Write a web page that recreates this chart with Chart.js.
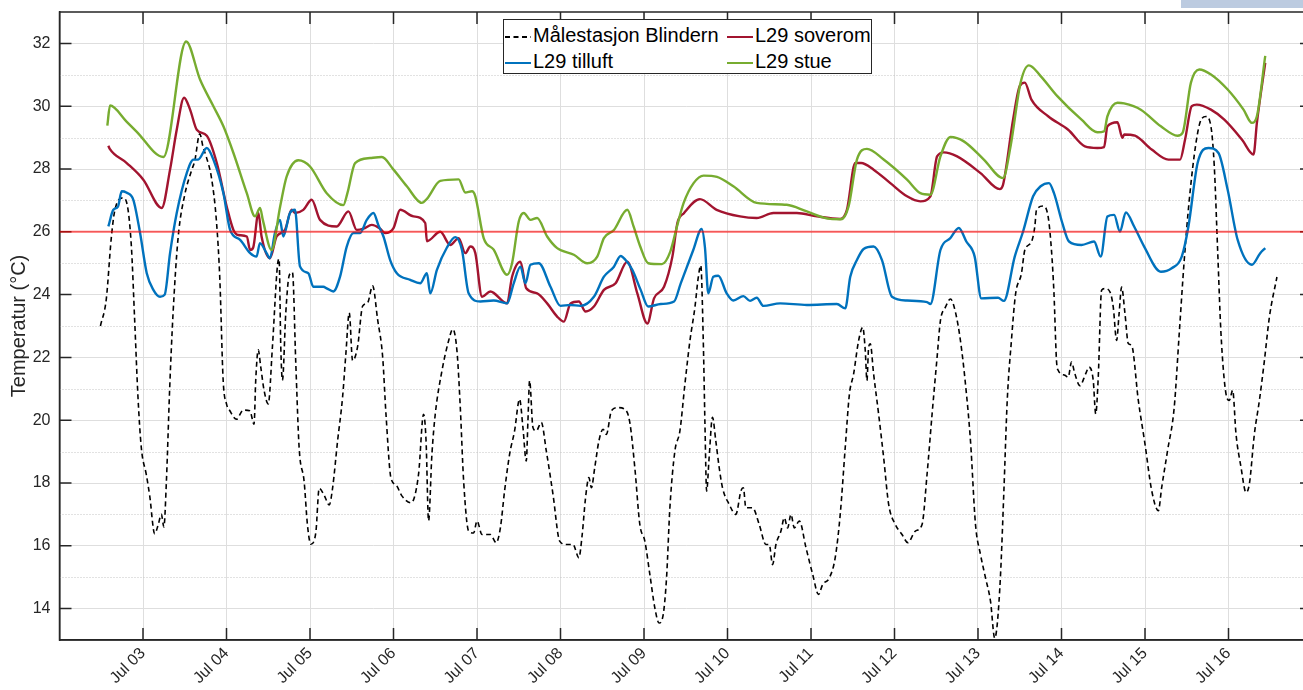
<!DOCTYPE html>
<html>
<head>
<meta charset="utf-8">
<script src="https://cdn.jsdelivr.net/npm/chart.js@4.4.0/dist/chart.umd.min.js"></script>
<style>
  body { margin: 0; overflow: hidden; background: #fff; width: 1303px; height: 690px; position: relative; }
  #wrap { position: absolute; left: 0; top: 0; width: 1320px; height: 690px; }
  #legend { position: absolute; left: 503px; top: 19px; width: 367px; height: 53px; background: #fff;
            border: 1px solid #262626; font-family: "Liberation Sans", Arial, sans-serif; font-size: 20px; color: #000; }
  .item { position: absolute; height: 26px; line-height: 26px; white-space: nowrap; }
  .item svg { vertical-align: middle; margin-right: 2px; }
  #corner { position: absolute; left: 1181px; top: 0; width: 122px; height: 8px; background: #bccbe0; }
</style>
</head>
<body>
<div id="wrap"><canvas id="myChart" width="1320" height="690"></canvas></div>
<div id="legend"></div>
<div id="corner"></div>
<script>
// x values are days in July (2.0 = Jul 02 00:00)
var dayTicks = [3, 4, 5, 6, 7, 8, 9, 10, 11, 12, 13, 14, 15, 16];
var tickLabels = ['Jul 03', 'Jul 04', 'Jul 05', 'Jul 06', 'Jul 07', 'Jul 08', 'Jul 09',
                  'Jul 10', 'Jul 11', 'Jul 12', 'Jul 13', 'Jul 14', 'Jul 15', 'Jul 16'];
var yMajor = [14, 16, 18, 20, 22, 24, 26, 28, 30, 32];
var yMinor = [15, 17, 19, 21, 23, 25, 27, 29, 31];
var limit = 26;

var blindernT = [2.49,2.56,2.62,2.66,2.76,2.80,2.86,2.90,2.94,2.98,3.04,3.08,3.14,3.18,3.22,3.25,3.28,3.32,3.36,3.42,
  3.50,3.58,3.62,3.68,3.72,3.76,3.82,3.88,3.92,3.96,4.00,4.04,4.12,4.20,4.28,4.33,4.35,4.38,4.41,4.45,
  4.50,4.55,4.61,4.63,4.65,4.67,4.71,4.75,4.79,4.83,4.87,4.93,4.97,5.01,5.07,5.11,5.17,5.23,5.27,5.33,
  5.39,5.43,5.47,5.51,5.57,5.63,5.69,5.75,5.81,5.87,5.91,5.97,6.03,6.10,6.21,6.30,6.36,6.39,6.42,6.46,
  6.50,6.58,6.66,6.71,6.76,6.80,6.84,6.90,6.96,7.00,7.06,7.16,7.23,7.28,7.33,7.39,7.45,7.51,7.55,7.59,
  7.61,7.63,7.67,7.71,7.77,7.83,7.91,7.99,8.07,8.15,8.22,8.26,8.30,8.34,8.37,8.41,8.46,8.51,8.55,8.61,
  8.69,8.77,8.83,8.89,8.95,9.01,9.07,9.13,9.18,9.23,9.27,9.31,9.37,9.43,9.49,9.55,9.61,9.65,9.68,9.71,
  9.73,9.75,9.78,9.82,9.86,9.90,9.94,10.02,10.10,10.16,10.19,10.22,10.30,10.38,10.46,10.50,10.54,10.58,10.64,10.68,
  10.72,10.76,10.80,10.86,10.94,11.02,11.09,11.14,11.22,11.29,11.35,11.41,11.46,11.51,11.57,11.62,11.65,11.67,11.69,11.71,
  11.75,11.81,11.87,11.93,12.01,12.09,12.16,12.25,12.33,12.39,12.45,12.51,12.55,12.61,12.67,12.73,12.79,12.85,12.91,12.97,
  13.03,13.09,13.15,13.20,13.23,13.27,13.31,13.35,13.40,13.45,13.52,13.56,13.64,13.68,13.70,13.78,13.84,13.88,13.91,13.94,
  13.96,14.04,14.08,14.12,14.16,14.22,14.29,14.33,14.38,14.41,14.44,14.48,14.52,14.58,14.62,14.66,14.69,14.72,14.76,14.80,
  14.84,14.92,15.00,15.08,15.16,15.20,15.27,15.35,15.41,15.47,15.53,15.61,15.67,15.73,15.79,15.83,15.87,15.91,15.97,16.01,
  16.05,16.09,16.15,16.21,16.25,16.31,16.37,16.43,16.49,16.58];
var blindernV = [23.0,23.85,25.8,26.65,27.08,26.97,25.57,23.2,20.73,19.12,18.26,17.6,16.38,16.65,17.0,16.6,18.04,21.05,23.4,25.8,
  27.18,27.94,28.26,29.12,28.69,28.37,27.72,26.32,24.5,21.27,20.52,20.3,20.03,20.32,20.3,19.87,21.27,22.24,21.7,20.95,
  20.52,22.34,24.92,25.14,22.34,21.27,23.42,24.6,24.71,21.8,19.12,18.04,16.65,16.05,16.43,17.83,17.61,17.3,17.83,19.33,
  20.73,22.13,23.42,21.9,22.34,23.63,23.74,24.28,23.2,22.02,20.19,18.15,17.94,17.59,17.37,18.28,20.19,19.34,16.79,18.91,
  20.19,21.57,22.53,22.9,22.21,20.4,18.06,16.47,16.41,16.79,16.36,16.36,16.1,16.57,17.74,18.91,19.66,20.67,19.77,18.7,
  19.98,21.26,19.77,19.66,19.93,19.02,17.64,16.15,16.04,16.04,15.62,16.36,17.53,18.17,17.85,18.49,19.34,19.71,19.55,20.3,
  20.4,20.35,19.93,18.49,16.68,16.15,15.09,14.02,13.54,13.81,14.98,17.21,19.02,19.66,21.15,22.53,23.6,24.55,24.93,22.53,
  19.87,17.74,18.81,20.09,19.34,18.5,17.85,17.32,17.0,17.74,17.85,17.21,17.21,16.68,16.04,16.04,15.4,16.04,16.47,16.89,
  16.57,17.0,16.57,16.79,15.94,15.09,14.45,14.77,14.98,15.62,17.0,19.13,20.83,21.47,22.53,22.96,22.21,21.26,22.32,22.43,
  21.47,20.19,18.81,17.32,16.68,16.36,16.1,16.47,16.68,18.28,20.19,22.0,23.17,23.6,23.86,23.44,22.53,21.15,19.34,16.68,
  15.72,14.98,14.23,13.06,13.49,15.09,17.74,20.62,22.53,24.02,24.67,25.41,25.68,26.16,26.69,26.82,26.48,25.41,24.03,21.9,
  21.59,21.43,21.37,21.85,21.48,21.1,21.48,21.69,21.27,20.2,21.37,24.14,24.19,24.09,23.6,22.54,23.4,24.24,23.4,22.44,
  22.38,20.63,19.24,17.76,17.12,17.86,19.03,20.41,22.76,25.1,27.01,28.82,29.56,29.67,29.35,28.07,25.41,22.76,20.84,20.63,
  20.95,19.56,18.5,17.7,17.97,19.56,20.63,21.9,23.29,24.56];

var soveromT = [2.585,2.6,2.805,3.004,3.224,3.324,3.404,3.492,3.564,3.644,3.764,3.884,4.003,4.083,4.14,4.243,4.283,4.32,4.382,4.42,
  4.52,4.6,4.70,4.78,4.82,4.92,5.02,5.12,5.32,5.46,5.56,5.64,5.74,5.84,5.90,6.0,6.08,6.24,6.38,6.4,
  6.56,6.68,6.78,6.86,6.92,6.98,7.06,7.16,7.36,7.42,7.52,7.59,7.72,7.84,7.96,8.04,8.12,8.22,8.30,8.40,
  8.52,8.66,8.80,8.92,9.04,9.12,9.24,9.34,9.40,9.48,9.67,9.87,10.15,10.35,10.55,10.83,11.07,11.35,11.43,11.53,
  11.60,11.75,11.95,12.15,12.31,12.43,12.51,12.59,12.75,13.03,13.26,13.30,13.42,13.50,13.56,13.64,13.84,14.08,14.28,14.43,
  14.51,14.55,14.67,14.73,14.75,14.88,15.08,15.28,15.42,15.48,15.56,15.62,15.79,15.95,16.16,16.30,16.34,16.44];
var soveromV = [28.74,28.65,28.19,27.66,26.76,27.98,29.25,30.27,29.89,29.25,29.06,28.19,26.8,26.06,25.9,25.85,25.42,25.5,26.6,25.85,
  25.16,25.85,26.06,26.7,26.6,26.7,27.02,26.38,26.17,26.65,26.06,26.1,26.22,26.1,25.96,26.12,26.7,26.49,26.28,25.7,
  26.0,25.58,25.8,25.32,25.53,25.32,23.93,24.1,23.72,24.57,25.05,24.2,24.04,23.72,23.3,23.14,23.72,23.78,23.46,23.62,
  24.15,24.36,25.05,24.04,23.08,23.88,24.25,25.21,26.28,26.6,27.04,26.7,26.49,26.44,26.6,26.6,26.49,26.41,26.7,28.19,
  28.19,27.98,27.55,27.13,26.97,27.13,28.4,28.53,28.4,27.87,27.36,27.5,29.57,30.64,30.75,30.21,29.68,29.25,28.72,28.67,
  28.7,29.36,29.49,28.99,29.1,29.06,28.62,28.3,28.3,28.94,30.0,30.05,29.89,29.57,28.94,28.46,29.47,31.38];

var tilluftT = [2.585,2.645,2.70,2.745,2.80,2.884,2.965,3.045,3.124,3.204,3.26,3.324,3.404,3.524,3.604,3.66,3.764,3.843,3.963,4.043,
  4.163,4.283,4.36,4.40,4.48,4.52,4.58,4.64,4.68,4.76,4.82,4.88,4.98,5.04,5.16,5.20,5.28,5.36,5.44,5.52,
  5.60,5.68,5.76,5.82,5.88,5.96,6.04,6.2,6.32,6.40,6.44,6.52,6.64,6.74,6.82,6.90,7.04,7.20,7.36,7.44,
  7.52,7.58,7.64,7.74,7.88,8.0,8.12,8.24,8.40,8.52,8.64,8.72,8.78,8.86,8.96,9.05,9.20,9.36,9.44,9.59,
  9.69,9.73,9.77,9.83,9.89,9.99,10.07,10.19,10.27,10.35,10.43,10.63,10.95,11.31,11.41,11.47,11.55,11.63,11.75,11.85,
  11.97,12.15,12.39,12.43,12.55,12.67,12.77,12.86,12.96,13.04,13.24,13.31,13.44,13.54,13.66,13.75,13.85,13.91,14.01,14.09,
  14.24,14.39,14.47,14.55,14.63,14.70,14.77,14.87,14.99,15.19,15.32,15.44,15.52,15.63,15.76,15.88,15.99,16.11,16.28,16.38,16.44];
var tilluftV = [26.17,26.7,26.8,27.29,27.25,27.02,25.96,24.68,24.15,23.93,24.0,25.32,26.6,27.87,28.3,28.3,28.67,28.3,27.23,26.06,
  25.74,25.32,25.21,25.64,25.32,25.16,25.96,26.38,25.85,26.6,26.7,24.9,24.68,24.25,24.25,24.2,24.1,24.57,25.53,25.96,
  25.96,26.38,26.6,26.2,25.85,25.1,24.68,24.47,24.36,24.68,24.04,24.79,25.5,25.83,25.42,24.04,23.78,23.81,23.72,24.36,
  24.89,24.36,24.95,25.0,24.25,23.64,23.67,23.64,23.93,24.57,24.89,25.23,25.1,24.79,24.15,23.62,23.7,23.78,24.36,25.42,
  26.09,25.5,24.04,24.57,24.6,24.04,23.81,23.95,23.8,23.9,23.64,23.72,23.67,23.7,23.56,24.57,25.1,25.45,25.53,25.1,
  23.93,23.81,23.76,23.7,25.42,25.8,26.12,25.69,25.21,23.88,23.9,23.8,25.21,26.01,27.13,27.45,27.55,27.23,26.28,25.69,
  25.58,25.69,25.21,26.49,26.54,26.01,26.62,26.17,25.53,24.73,24.84,25.21,26.17,28.19,28.67,28.51,27.34,25.74,24.95,25.32,25.48];

var stueT = [2.573,2.605,2.8,2.92,3.244,3.516,3.683,3.843,3.963,4.083,4.243,4.342,4.402,4.435,4.54,4.642,4.72,4.861,5.0,5.2,
  5.4,5.448,5.54,5.72,5.86,6.0,6.16,6.34,6.4,6.56,6.78,6.86,6.94,6.98,7.08,7.2,7.36,7.42,7.5,7.56,
  7.64,7.72,7.84,7.96,8.16,8.32,8.44,8.52,8.64,8.8,8.875,8.955,9.05,9.215,9.315,9.395,9.475,9.594,9.714,9.874,
  10.07,10.35,10.71,10.95,11.23,11.36,11.45,11.55,11.67,11.87,12.15,12.31,12.43,12.55,12.67,12.83,13.07,13.30,13.39,13.51,
  13.61,13.75,13.95,14.24,14.43,14.51,14.55,14.67,14.75,14.95,15.19,15.39,15.45,15.55,15.65,15.79,15.99,16.18,16.28,16.34,16.44];
var stueV = [29.38,30.02,29.52,29.2,28.38,32.06,30.85,30.0,29.36,28.51,27.23,26.49,26.76,26.38,25.42,26.8,27.76,28.28,28.08,27.23,
  26.85,27.23,28.19,28.35,28.38,27.98,27.45,26.92,27.05,27.62,27.67,27.25,27.29,27.13,25.8,25.43,24.63,25.0,26.33,26.6,
  26.38,26.44,25.85,25.48,25.27,25.0,25.21,25.8,26.06,26.7,26.17,25.53,25.0,24.97,25.37,26.17,26.92,27.55,27.79,27.75,
  27.45,26.92,26.86,26.65,26.41,26.4,26.81,28.3,28.64,28.3,27.66,27.23,27.18,28.4,29.02,28.88,28.3,27.71,28.72,30.75,
  31.3,30.96,30.32,29.57,29.17,29.2,29.68,30.11,30.09,29.89,29.36,29.06,29.15,30.75,31.17,31.01,30.53,29.89,29.47,29.68,31.6];

function pts(t, v) {
  var out = [];
  for (var i = 0; i < t.length; i++) out.push({x: t[i], y: v[i]});
  return out;
}

var font = '"Liberation Sans", Arial, sans-serif';

var axisFrame = {
  id: 'axisFrame',
  beforeDatasetsDraw: function(chart) {
    var ctx = chart.ctx, a = chart.chartArea, x = chart.scales.x, y = chart.scales.y;
    ctx.save();
    // dotted minor grid
    ctx.strokeStyle = '#c4c4c4';
    ctx.lineWidth = 1;
    ctx.setLineDash([1, 2]);
    yMinor.forEach(function(v) {
      var p = Math.round(y.getPixelForValue(v)) + 0.5;
      ctx.beginPath(); ctx.moveTo(a.left, p); ctx.lineTo(a.right, p); ctx.stroke();
    });
    ctx.setLineDash([]);
    // box and inward ticks
    ctx.strokeStyle = '#262626';
    ctx.lineWidth = 1.5;
    ctx.strokeRect(a.left, a.top, a.right - a.left, a.bottom - a.top);
    ctx.beginPath();
    yMajor.forEach(function(v) {
      var p = y.getPixelForValue(v);
      ctx.moveTo(a.left, p); ctx.lineTo(a.left + 12, p);
      ctx.moveTo(a.right, p); ctx.lineTo(a.right - 12, p);
    });
    dayTicks.forEach(function(v) {
      var p = x.getPixelForValue(v);
      ctx.moveTo(p, a.bottom); ctx.lineTo(p, a.bottom - 12);
      ctx.moveTo(p, a.top); ctx.lineTo(p, a.top + 12);
    });
    ctx.stroke();
    ctx.restore();
  }
};

var chartdata = {
  datasets: [
    { label: '26', data: [{x: 2, y: limit}, {x: 17, y: limit}], borderColor: 'rgba(255, 0, 0, 0.6)',
      borderWidth: 2, pointRadius: 0, order: 0 },
    { label: 'Målestasjon Blindern', data: pts(blindernT, blindernV), borderColor: '#000000',
      borderWidth: 1.6, borderDash: [5, 3.5], pointRadius: 0, cubicInterpolationMode: 'monotone', order: 4 },
    { label: 'L29 soverom', data: pts(soveromT, soveromV), borderColor: '#A2142F',
      borderWidth: 2.4, pointRadius: 0, cubicInterpolationMode: 'monotone', order: 3 },
    { label: 'L29 tilluft', data: pts(tilluftT, tilluftV), borderColor: '#0072BD',
      borderWidth: 2.4, pointRadius: 0, cubicInterpolationMode: 'monotone', order: 2 },
    { label: 'L29 stue', data: pts(stueT, stueV), borderColor: '#77AC30',
      borderWidth: 2.4, pointRadius: 0, cubicInterpolationMode: 'monotone', order: 1 }
  ]
};

var ctx = document.getElementById('myChart');
var lineGraph = new Chart(ctx, {
  type: 'line',
  data: chartdata,
  plugins: [axisFrame],
  options: {
    responsive: false,
    animation: false,
    layout: { padding: { top: 12, right: 8, left: 0, bottom: 0 } },
    plugins: { legend: { display: false }, tooltip: { enabled: false } },
    scales: {
      x: {
        type: 'linear', min: 2, max: 17,
        afterBuildTicks: function(s) { s.ticks = dayTicks.map(function(v) { return {value: v}; }); },
        afterFit: function(s) { s.height = 50; s.paddingLeft = 0; s.paddingRight = 0; },
        grid: { color: '#dedede', lineWidth: 1, drawTicks: false },
        border: { display: true, color: '#262626', width: 1.5 },
        ticks: {
          autoSkip: false, minRotation: 45, maxRotation: 45, padding: 4, color: '#262626',
          font: { family: font, size: 16 },
          callback: function(v) { var i = dayTicks.indexOf(v); return i < 0 ? '' : tickLabels[i]; }
        }
      },
      y: {
        type: 'linear', min: 13, max: 33,
        afterBuildTicks: function(s) { s.ticks = yMajor.map(function(v) { return {value: v}; }); },
        afterFit: function(s) { s.width = 59.5; s.paddingTop = 0; s.paddingBottom = 0; },
        grid: { color: '#dedede', lineWidth: 1, drawTicks: false },
        border: { display: true, color: '#262626', width: 1.5 },
        ticks: { padding: 9, color: '#262626', font: { family: font, size: 16 } },
        title: { display: true, text: 'Temperatur (°C)', color: '#262626',
                 font: { family: font, size: 20 }, padding: { top: 7, bottom: 0 } }
      }
    }
  }
});

// legend box inside the plot, two columns like the original
var legendOrder = [1, 2, 3, 4];
var cols = [1, 223], rows = [2, 28];
var leg = document.getElementById('legend');
legendOrder.forEach(function(di, k) {
  var ds = chartdata.datasets[di];
  var dash = ds.borderDash ? ' stroke-dasharray="' + ds.borderDash.join(' ') + '"' : '';
  var el = document.createElement('div');
  el.className = 'item';
  el.style.left = cols[k % 2] + 'px';
  el.style.top = rows[Math.floor(k / 2)] + 'px';
  el.innerHTML = '<svg width="26" height="4"><line x1="0" y1="2" x2="26" y2="2" stroke="' + ds.borderColor +
    '" stroke-width="2"' + dash + '/></svg>' + ds.label;
  leg.appendChild(el);
});
</script>
</body>
</html>
